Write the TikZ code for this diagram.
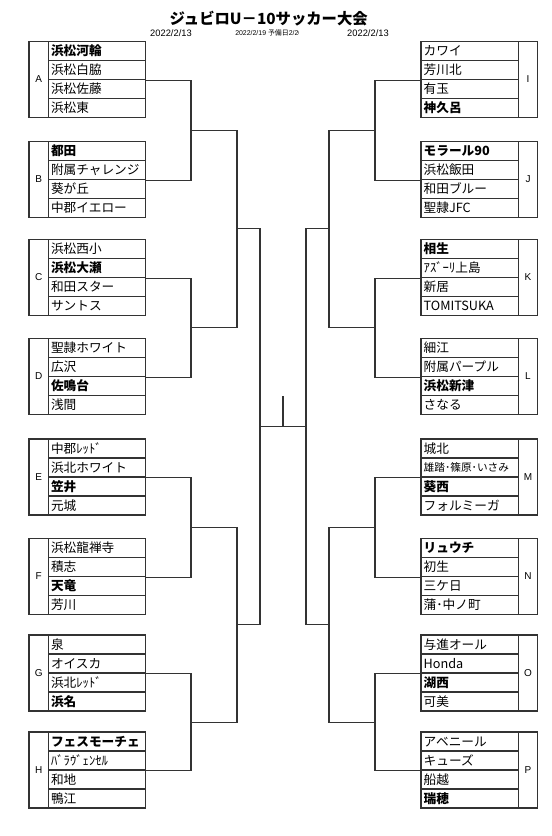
\documentclass[tikz,border=0pt]{standalone}
\usepackage{fontspec}
\setmainfont{Noto Sans CJK JP}
\newfontfamily\latfont{Liberation Sans}
\usetikzlibrary{calc}

\begin{document}
\begin{tikzpicture}[x=0.75pt,y=-0.75pt,
  team/.style={draw=black!80,line width=1pt,text width=69pt,align=left,inner xsep=2pt,inner ysep=0pt,minimum height=14.25pt,font=\fontsize{9.5}{10}\selectfont},
  seed/.style={team,font=\fontsize{9.5}{10}\selectfont\bfseries},
  grp/.style={draw=black!80,line width=1pt,minimum width=14.5pt,minimum height=57pt,inner sep=0pt,font=\latfont\fontsize{7.5}{8}\selectfont},
  bracket/.style={draw=black!80,line width=0.8pt}]
\useasboundingbox (0,0) rectangle (552,836);

% title and dates
\node[font=\bfseries\fontsize{11.5}{12}\selectfont] (title) at (268.7,18.3) {ジュビロU－10サッカー大会};
\node[font=\latfont\fontsize{7}{8}\selectfont] (d1) at (171,33.3) {2022/2/13};
\begin{scope}
\clip (230,25) rectangle (298.5,42);
\node[font=\latfont\fontsize{5.2}{6}\selectfont,anchor=west,inner sep=0pt] (d2) at (235,33.3) {2022/2/19 {\fontspec{Noto Sans CJK JP}予備日}2/20};
\end{scope}
\node[font=\latfont\fontsize{7}{8}\selectfont] (d3) at (368,33.3) {2022/2/13};

% left groups
\node[grp] (A) at (38.8,79.5) {A};
\node[seed] (A1) at (97,51) {浜松河輪};
\node[team] (A2) at (97,70) {浜松白脇};
\node[team] (A3) at (97,89) {浜松佐藤};
\node[team] (A4) at (97,108) {浜松東};

\node[grp] (B) at (38.8,179.5) {B};
\node[seed] (B1) at (97,151) {都田};
\node[team] (B2) at (97,170) {附属チャレンジ};
\node[team] (B3) at (97,189) {葵が丘};
\node[team] (B4) at (97,208) {中郡イエロー};

\node[grp] (C) at (38.8,277.5) {C};
\node[team] (C1) at (97,249) {浜松西小};
\node[seed] (C2) at (97,268) {浜松大瀬};
\node[team] (C3) at (97,287) {和田スター};
\node[team] (C4) at (97,306) {サントス};

\node[grp] (D) at (38.8,376.5) {D};
\node[team] (D1) at (97,348) {聖隷ホワイト};
\node[team] (D2) at (97,367) {広沢};
\node[seed] (D3) at (97,386) {佐鳴台};
\node[team] (D4) at (97,405) {浅間};

\node[grp] (E) at (38.8,477) {E};
\node[team] (E1) at (97,448.5) {中郡ﾚｯﾄﾞ};
\node[team] (E2) at (97,467.5) {浜北ホワイト};
\node[seed] (E3) at (97,486.5) {笠井};
\node[team] (E4) at (97,505.5) {元城};

\node[grp] (F) at (38.8,576.5) {F};
\node[team] (F1) at (97,548) {浜松龍禅寺};
\node[team] (F2) at (97,567) {積志};
\node[seed] (F3) at (97,586) {天竜};
\node[team] (F4) at (97,605) {芳川};

\node[grp] (G) at (38.8,673) {G};
\node[team] (G1) at (97,644.5) {泉};
\node[team] (G2) at (97,663.5) {オイスカ};
\node[team] (G3) at (97,682.5) {浜北ﾚｯﾄﾞ};
\node[seed] (G4) at (97,701.5) {浜名};

\node[grp] (H) at (38.8,770) {H};
\node[seed] (H1) at (97,741.5) {フェスモーチェ};
\node[team] (H2) at (97,760.5) {ﾊﾞﾗｳﾞｪﾝｾﾙ};
\node[team] (H3) at (97,779.5) {和地};
\node[team] (H4) at (97,798.5) {鴨江};

% right groups
\node[grp] (I) at (528,79.5) {I};
\node[team] (I1) at (469.7,51) {カワイ};
\node[team] (I2) at (469.7,70) {芳川北};
\node[team] (I3) at (469.7,89) {有玉};
\node[seed] (I4) at (469.7,108) {神久呂};

\node[grp] (J) at (528,179.5) {J};
\node[seed] (J1) at (469.7,151) {モラール90};
\node[team] (J2) at (469.7,170) {浜松飯田};
\node[team] (J3) at (469.7,189) {和田ブルー};
\node[team] (J4) at (469.7,208) {聖隷JFC};

\node[grp] (K) at (528,277.5) {K};
\node[seed] (K1) at (469.7,249) {相生};
\node[team] (K2) at (469.7,268) {ｱｽﾞｰﾘ上島};
\node[team] (K3) at (469.7,287) {新居};
\node[team] (K4) at (469.7,306) {TOMITSUKA};

\node[grp] (L) at (528,376.5) {L};
\node[team] (L1) at (469.7,348) {細江};
\node[team] (L2) at (469.7,367) {附属パープル};
\node[seed] (L3) at (469.7,386) {浜松新津};
\node[team] (L4) at (469.7,405) {さなる};

\node[grp] (M) at (528,477) {M};
\node[team] (M1) at (469.7,448.5) {城北};
\node[team,font=\fontsize{8}{9}\selectfont] (M2) at (469.7,467.5) {雄踏･篠原･いさみ};
\node[seed] (M3) at (469.7,486.5) {葵西};
\node[team] (M4) at (469.7,505.5) {フォルミーガ};

\node[grp] (N) at (528,576.5) {N};
\node[seed] (N1) at (469.7,548) {リュウチ};
\node[team] (N2) at (469.7,567) {初生};
\node[team] (N3) at (469.7,586) {三ケ日};
\node[team] (N4) at (469.7,605) {蒲･中ノ町};

\node[grp] (O) at (528,673) {O};
\node[team] (O1) at (469.7,644.5) {与進オール};
\node[team] (O2) at (469.7,663.5) {Honda};
\node[seed] (O3) at (469.7,682.5) {湖西};
\node[team] (O4) at (469.7,701.5) {可美};

\node[grp] (P) at (528,770) {P};
\node[team] (P1) at (469.7,741.5) {アベニール};
\node[team] (P2) at (469.7,760.5) {キューズ};
\node[team] (P3) at (469.7,779.5) {船越};
\node[seed] (P4) at (469.7,798.5) {瑞穂};

% bracket columns
\coordinate (l1) at (191,0);
\coordinate (l2) at (237,0);
\coordinate (l3) at (260,0);
\coordinate (r1) at (375,0);
\coordinate (r2) at (329,0);
\coordinate (r3) at (306,0);

% left brackets
\draw[bracket] (A2.south east) -| (l1 |- B2.south east) -- (B2.south east);
\draw[bracket] (C2.south east) -| (l1 |- D2.south east) -- (D2.south east);
\draw[bracket] (E2.south east) -| (l1 |- F2.south east) -- (F2.south east);
\draw[bracket] (G2.south east) -| (l1 |- H2.south east) -- (H2.south east);
\coordinate (AB) at ($(l1 |- A2.south east)!.5!(l1 |- B2.south east)$);
\coordinate (CD) at ($(l1 |- C2.south east)!.5!(l1 |- D2.south east)$);
\coordinate (EF) at ($(l1 |- E2.south east)!.5!(l1 |- F2.south east)$);
\coordinate (GH) at ($(l1 |- G2.south east)!.5!(l1 |- H2.south east)$);
\draw[bracket] (AB) -| (l2 |- CD) -- (CD);
\draw[bracket] (EF) -| (l2 |- GH) -- (GH);
\coordinate (AD) at ($(l2 |- AB)!.5!(l2 |- CD)$);
\coordinate (EH) at ($(l2 |- EF)!.5!(l2 |- GH)$);
\draw[bracket] (AD) -| (l3 |- EH) -- (EH);
\coordinate (leftfin) at ($(l3 |- AD)!.5!(l3 |- EH)$);

% right brackets
\draw[bracket] (I2.south west) -| (r1 |- J2.south west) -- (J2.south west);
\draw[bracket] (K2.south west) -| (r1 |- L2.south west) -- (L2.south west);
\draw[bracket] (M2.south west) -| (r1 |- N2.south west) -- (N2.south west);
\draw[bracket] (O2.south west) -| (r1 |- P2.south west) -- (P2.south west);
\coordinate (IJ) at ($(r1 |- I2.south west)!.5!(r1 |- J2.south west)$);
\coordinate (KL) at ($(r1 |- K2.south west)!.5!(r1 |- L2.south west)$);
\coordinate (MN) at ($(r1 |- M2.south west)!.5!(r1 |- N2.south west)$);
\coordinate (OP) at ($(r1 |- O2.south west)!.5!(r1 |- P2.south west)$);
\draw[bracket] (IJ) -| (r2 |- KL) -- (KL);
\draw[bracket] (MN) -| (r2 |- OP) -- (OP);
\coordinate (IL) at ($(r2 |- IJ)!.5!(r2 |- KL)$);
\coordinate (MP) at ($(r2 |- MN)!.5!(r2 |- OP)$);
\draw[bracket] (IL) -| (r3 |- MP) -- (MP);
\coordinate (rightfin) at ($(r3 |- IL)!.5!(r3 |- MP)$);

% final
\draw[bracket] (leftfin) -- (rightfin);
\coordinate (champ) at ($(leftfin)!.5!(rightfin)$);
\draw[bracket] (champ) -- ++(0,-31);
\end{tikzpicture}
\end{document}
